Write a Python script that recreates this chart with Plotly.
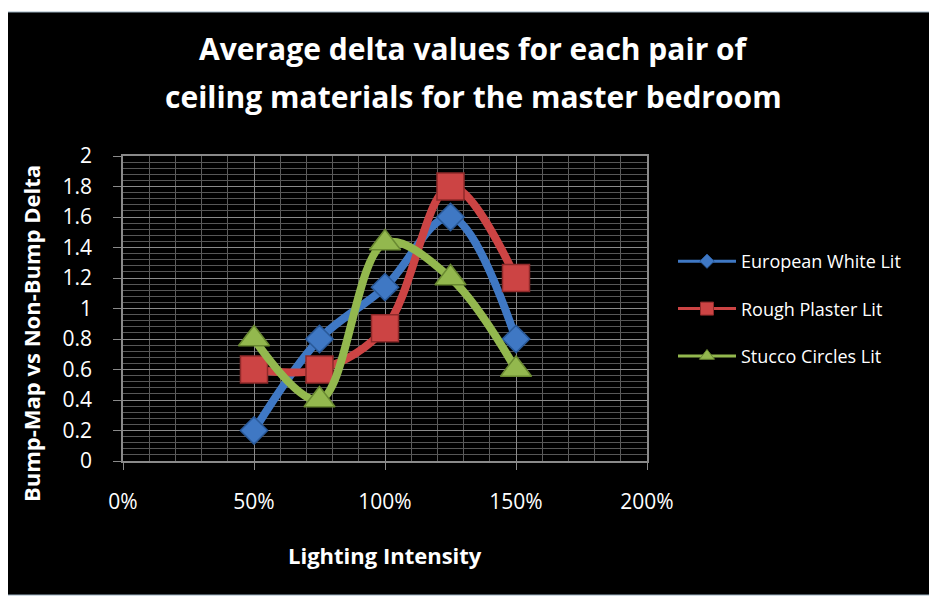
import plotly.graph_objects as go

intensity = [0.5, 0.75, 1.0, 1.25, 1.5]
european_white = [0.2, 0.8, 1.14, 1.6, 0.8]
rough_plaster = [0.6, 0.6, 0.87, 1.8, 1.2]
stucco_circles = [0.8, 0.4, 1.43, 1.2, 0.6]

series = [
    ("European White Lit", european_white, "#3f78c4", "diamond", "#2a5a9a", 21, 11),
    ("Rough Plaster Lit", rough_plaster, "#cc4444", "square", "#8e2a2a", 27, 13),
    ("Stucco Circles Lit", stucco_circles, "#93b84e", "triangle-up", "#6a8a32", 27, 13),
]

FONT = "Open Sans"
# page body has an 8px margin; figure is sized to fit the window exactly
W, H = 929, 589
PL, PT, PR, PB = 123, 156, 647, 461  # plot area in page pixels
fig = go.Figure()
for i, (name, ys, col, sym, edge, sz, lsz) in enumerate(series):
    fig.add_trace(go.Scatter(
        x=intensity, y=ys, name=name, mode="lines+markers",
        line=dict(color=col, width=8, shape="spline", smoothing=1.0),
        marker=dict(symbol=sym, size=sz, color=col, line=dict(color=edge, width=1.5)),
        showlegend=False,
    ))
for i, (name, ys, col, sym, edge, sz, lsz) in enumerate(series):
    fig.add_trace(go.Scatter(
        x=[None], y=[None], name=name, mode="lines+markers",
        line=dict(color=col, width=3),
        marker=dict(symbol=sym, size=lsz, color=col, line=dict(color=edge, width=1)),
        legendgroup=f"g{i}", showlegend=True,
    ))

pw, ph = PR - PL, PB - PT


def px(x):
    return (x - PL) / pw


def py(y):
    return (PB - y) / ph


fig.update_layout(
    width=W, height=H,
    paper_bgcolor="white",
    plot_bgcolor="#3c3c3c",
    margin=dict(l=PL - 8, r=W - (PR - 8), t=PT - 8, b=H - (PB - 8)),
    font=dict(family=FONT, color="white"),
    showlegend=True,
    legend=dict(
        x=px(673), y=py(243), xanchor="left", yanchor="top",
        bgcolor="rgba(0,0,0,0)", font=dict(size=18, color="white", family=FONT),
        tracegroupgap=21, itemwidth=58,
    ),
    shapes=[dict(type="rect", xref="paper", yref="paper",
                 x0=px(3), x1=px(945),
                 y0=py(595), y1=py(12),
                 fillcolor="black", line=dict(color="#9ab0c0", width=1), layer="below")],
    annotations=[
        dict(text="<b>Average delta values for each pair of</b>", xref="paper", yref="paper",
             x=px(473), y=py(49), showarrow=False,
             font=dict(size=30, family=FONT, color="white"), xanchor="center", yanchor="middle"),
        dict(text="<b>ceiling materials for the master bedroom</b>", xref="paper", yref="paper",
             x=px(473), y=py(96), showarrow=False,
             font=dict(size=30, family=FONT, color="white"), xanchor="center", yanchor="middle"),
        dict(text="<b>Bump-Map vs Non-Bump Delta</b>", xref="paper", yref="paper",
             x=px(31), y=py(334), showarrow=False, textangle=-90,
             font=dict(size=22, family=FONT, color="white"), xanchor="center", yanchor="middle"),
        dict(text="<b>Lighting Intensity</b>", xref="paper", yref="paper",
             x=px(385), y=py(555), showarrow=False,
             font=dict(size=22, family=FONT, color="white"), xanchor="center", yanchor="middle"),
    ],
)

fig.update_xaxes(
    range=[0, 2], dtick=0.5, tick0=0, tickformat=".0%",
    showgrid=True, gridcolor="#8a8a8a", gridwidth=1,
    minor=dict(dtick=0.1, showgrid=True, gridcolor="#5c5c5c", gridwidth=1),
    showline=True, linecolor="#8a8a8a", linewidth=1.5, mirror=True,
    ticks="outside", ticklen=7, tickcolor="#8a8a8a",
    ticklabelstandoff=14,
    tickfont=dict(size=21, color="white", family=FONT),
    zeroline=False,
)
fig.update_yaxes(
    range=[0, 2], dtick=0.2, tick0=0,
    showgrid=True, gridcolor="#8a8a8a", gridwidth=1,
    minor=dict(dtick=0.04, showgrid=True, gridcolor="#575757", gridwidth=1),
    showline=True, linecolor="#8a8a8a", linewidth=1.5, mirror=True,
    ticks="outside", ticklen=8, tickcolor="#8a8a8a",
    ticklabelstandoff=17,
    tickfont=dict(size=21, color="white", family=FONT),
    zeroline=False,
)

fig.write_html("out.html")
